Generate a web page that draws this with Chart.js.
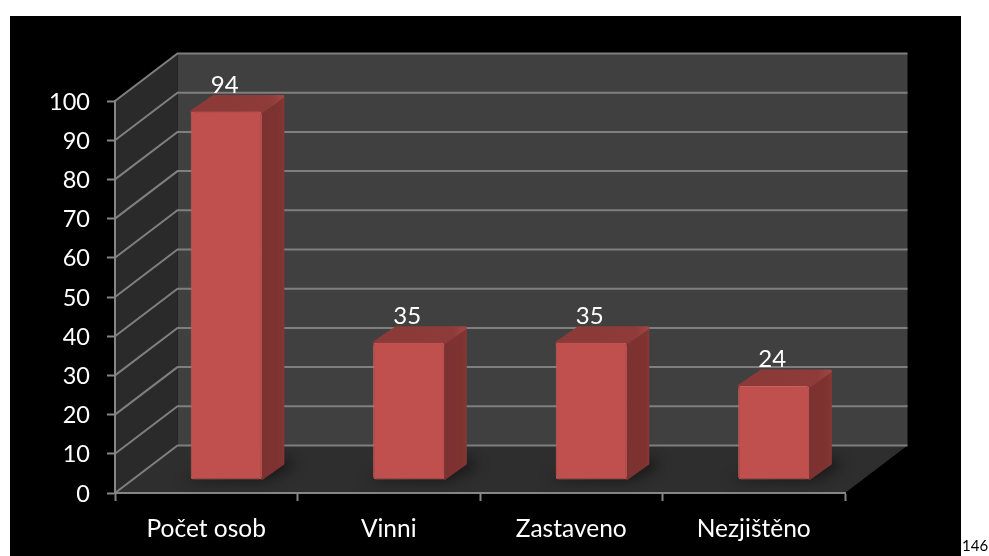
<!DOCTYPE html>
<html><head><meta charset="utf-8">
<style>html,body{margin:0;padding:0;background:#fff}canvas{display:block}
#pg{position:absolute;left:962px;top:536px;font:15px Lato,Carlito,sans-serif;color:#000}</style>
<script src="https://cdn.jsdelivr.net/npm/chart.js@4/dist/chart.umd.min.js"></script>
</head><body>
<canvas id="c" width="989" height="556"></canvas>
<div id="pg">146</div>
<script>
const categories = ["Počet osob", "Vinni", "Zastaveno", "Nezjištěno"];
const values = [94, 35, 35, 24];
const FONT = "Lato, Carlito, sans-serif";
const depth = {x: 62.5, y: -47.5};
const barShift = {x: 20, y: -13};
const barDepth = {x: 22, y: -16};

function poly(ctx, pts, fill) {
  ctx.beginPath();
  pts.forEach((p, i) => i ? ctx.lineTo(p[0], p[1]) : ctx.moveTo(p[0], p[1]));
  ctx.closePath();
  if (fill) { ctx.fillStyle = fill; ctx.fill(); }
}
const scene = {
  id: "scene",
  beforeDraw(chart) {
    const {ctx, scales: {x, y}} = chart;
    ctx.save();
    ctx.fillStyle = "#000";
    ctx.fillRect(10, 16, 951, 540);
    const l = x.left, r = x.right, t = y.getPixelForValue(100), b = y.getPixelForValue(0);
    const dx = depth.x, dy = depth.y;
    poly(ctx, [[l + dx, t + dy], [r + dx, t + dy], [r + dx, b + dy], [l + dx, b + dy]], "#404040");
    poly(ctx, [[l, t], [l + dx, t + dy], [l + dx, b + dy], [l, b]], "#2a2a2a");
    poly(ctx, [[l, b], [r, b], [r + dx, b + dy], [l + dx, b + dy]], "#2e2e2e");
    ctx.strokeStyle = "#7f7f7f";
    ctx.lineWidth = 2;
    y.ticks.forEach(tk => {
      const py = y.getPixelForValue(tk.value);
      ctx.beginPath();
      ctx.moveTo(l, py);
      ctx.lineTo(l + dx, py + dy);
      ctx.lineTo(r + dx, py + dy);
      ctx.stroke();
    });
    ctx.restore();
  },
  beforeDatasetDraw(chart) {
    const ctx = chart.ctx;
    chart.getDatasetMeta(0).data.forEach(bar => {
      const hw = bar.width / 2;
      const L = bar.x - hw + barShift.x, R = bar.x + hw + barShift.x;
      const T = bar.y + barShift.y, B = bar.base + barShift.y;
      const bx = barDepth.x, by = barDepth.y;
      ctx.save();
      ctx.filter = "blur(7px)";
      poly(ctx, [[L - 8, B + 1], [R + 4, B + 1], [R + bx + 12, B + by + 2], [R + bx, B + by - 6], [L + 10, B - 6]], "rgba(0,0,0,.5)");
      ctx.filter = "none";
      ctx.lineJoin = "round";
      ctx.lineWidth = 3;
      const gs = ctx.createLinearGradient(R, 0, R + bx, 0);
      gs.addColorStop(0, "#7a3230"); gs.addColorStop(.85, "#803331"); gs.addColorStop(1, "#863735");
      poly(ctx, [[R, T + 1], [R + bx - 1, T + by + 2], [R + bx - 1, B + by], [R, B - 1]], gs);
      ctx.strokeStyle = gs; ctx.stroke();
      const gt = ctx.createLinearGradient(L, 0, R + bx, 0);
      gt.addColorStop(0, "#8b3a38"); gt.addColorStop(.85, "#8e3b39"); gt.addColorStop(1, "#a04644");
      poly(ctx, [[L + 1, T], [L + bx + 1, T + by + 1], [R + bx - 1, T + by + 1], [R, T]], gt);
      ctx.strokeStyle = gt; ctx.stroke();
      ctx.restore();
    });
    ctx.save();
    ctx.translate(barShift.x, barShift.y);
  },
  afterDatasetDraw(chart) {
    const ctx = chart.ctx;
    ctx.restore();
    ctx.save();
    ctx.fillStyle = "#fff";
    ctx.font = "24px " + FONT;
    ctx.textAlign = "center";
    ctx.textBaseline = "alphabetic";
    chart.getDatasetMeta(0).data.forEach((bar, i) => {
      ctx.fillText(String(values[i]), bar.x + barShift.x - 1.5, bar.y + barShift.y - 19);
    });
    ctx.restore();
  }
};

new Chart(document.getElementById("c"), {
  type: "bar",
  data: {labels: categories, datasets: [{
    data: values,
    backgroundColor: "#c0504d",
    borderColor: "#cb5f5c",
    borderWidth: 1,
    borderRadius: 3,
    borderSkipped: false,
    barPercentage: 0.39,
    categoryPercentage: 1
  }]},
  plugins: [scene],
  options: {
    responsive: false,
    animation: false,
    layout: {padding: {top: 101, right: 144, left: 0, bottom: 0}},
    plugins: {legend: {display: false}, tooltip: {enabled: false}, title: {display: false}},
    scales: {
      x: {
        afterFit(s) { s.height = 63; },
        border: {color: "#868686", width: 2},
        grid: {drawOnChartArea: false, drawTicks: true, tickLength: 8, tickColor: "#868686", tickWidth: 2},
        ticks: {color: "#fff", font: {family: FONT, size: 24.5}, padding: 13, maxRotation: 0}
      },
      y: {
        min: 0, max: 100,
        afterFit(s) { s.width = 115; },
        border: {color: "#868686", width: 2},
        grid: {drawOnChartArea: false, drawTicks: true, tickLength: 8, tickColor: "#868686", tickWidth: 2},
        ticks: {color: "#fff", font: {family: FONT, size: 23.5}, padding: 17, stepSize: 10, labelOffset: 1}
      }
    }
  }
});
</script>
</body></html>
